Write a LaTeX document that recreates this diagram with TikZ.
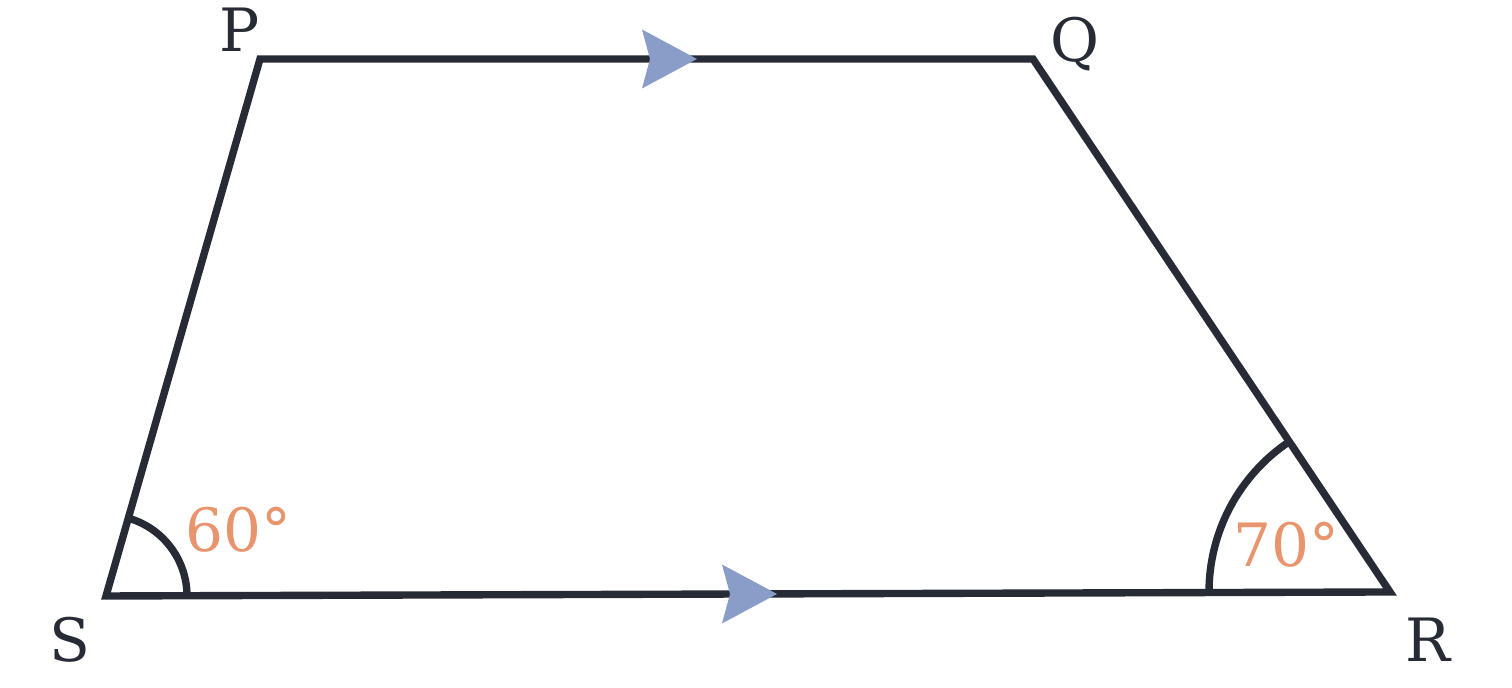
\documentclass[tikz,border=0pt]{standalone}
\usepackage{fontspec}
\setmainfont{DejaVu Serif}
\usetikzlibrary{angles}

\definecolor{edgecol}{HTML}{262B35}
\definecolor{markcol}{HTML}{8A9CC8}
\definecolor{anglecol}{HTML}{E8956E}

\tikzset{
	side/.style={draw=edgecol,line width=2.1pt,line join=miter},
	vlabel/.style={text=edgecol,font=\fontsize{17}{20}\selectfont},
	alabel/.style={text=anglecol,font=\fontsize{17}{20}\selectfont},
	parmark/.pic={\fill[markcol] (0,0) -- (-0.55,0.295) -- (-0.47,0) -- (-0.55,-0.295) -- cycle;}
}

\begin{document}
\begin{tikzpicture}
	\useasboundingbox (0,0) rectangle (15.12,6.88);
	
	%corners
	\coordinate (S) at (1.06,0.92);
	\coordinate (R) at (13.90,0.96);
	\coordinate (Q) at (10.33,6.29);
	\coordinate (P) at (2.60,6.29);
	
	%trapezium
	\draw[side] (P)--(Q)--(R)--(S)--cycle;
	
	%angle arcs
	\pic[side,angle radius=0.81cm] {angle = R--S--P};
	\pic[side,angle radius=1.81cm] {angle = Q--R--S};
	
	%parallel marks
	\pic at (6.97,6.29) {parmark};
	\pic at (7.77,0.94) {parmark};
	
	%labels
	\node[vlabel] (lP) at (2.40,6.58) {P};
	\node[vlabel] (lQ) at (10.75,6.44) {Q};
	\node[vlabel] (lS) at (0.70,0.48) {S};
	\node[vlabel] (lR) at (14.28,0.48) {R};
	\node[alabel] (aS) at (2.38,1.58) {60°};
	\node[alabel] (aR) at (12.86,1.43) {70°};
\end{tikzpicture}
\end{document}
